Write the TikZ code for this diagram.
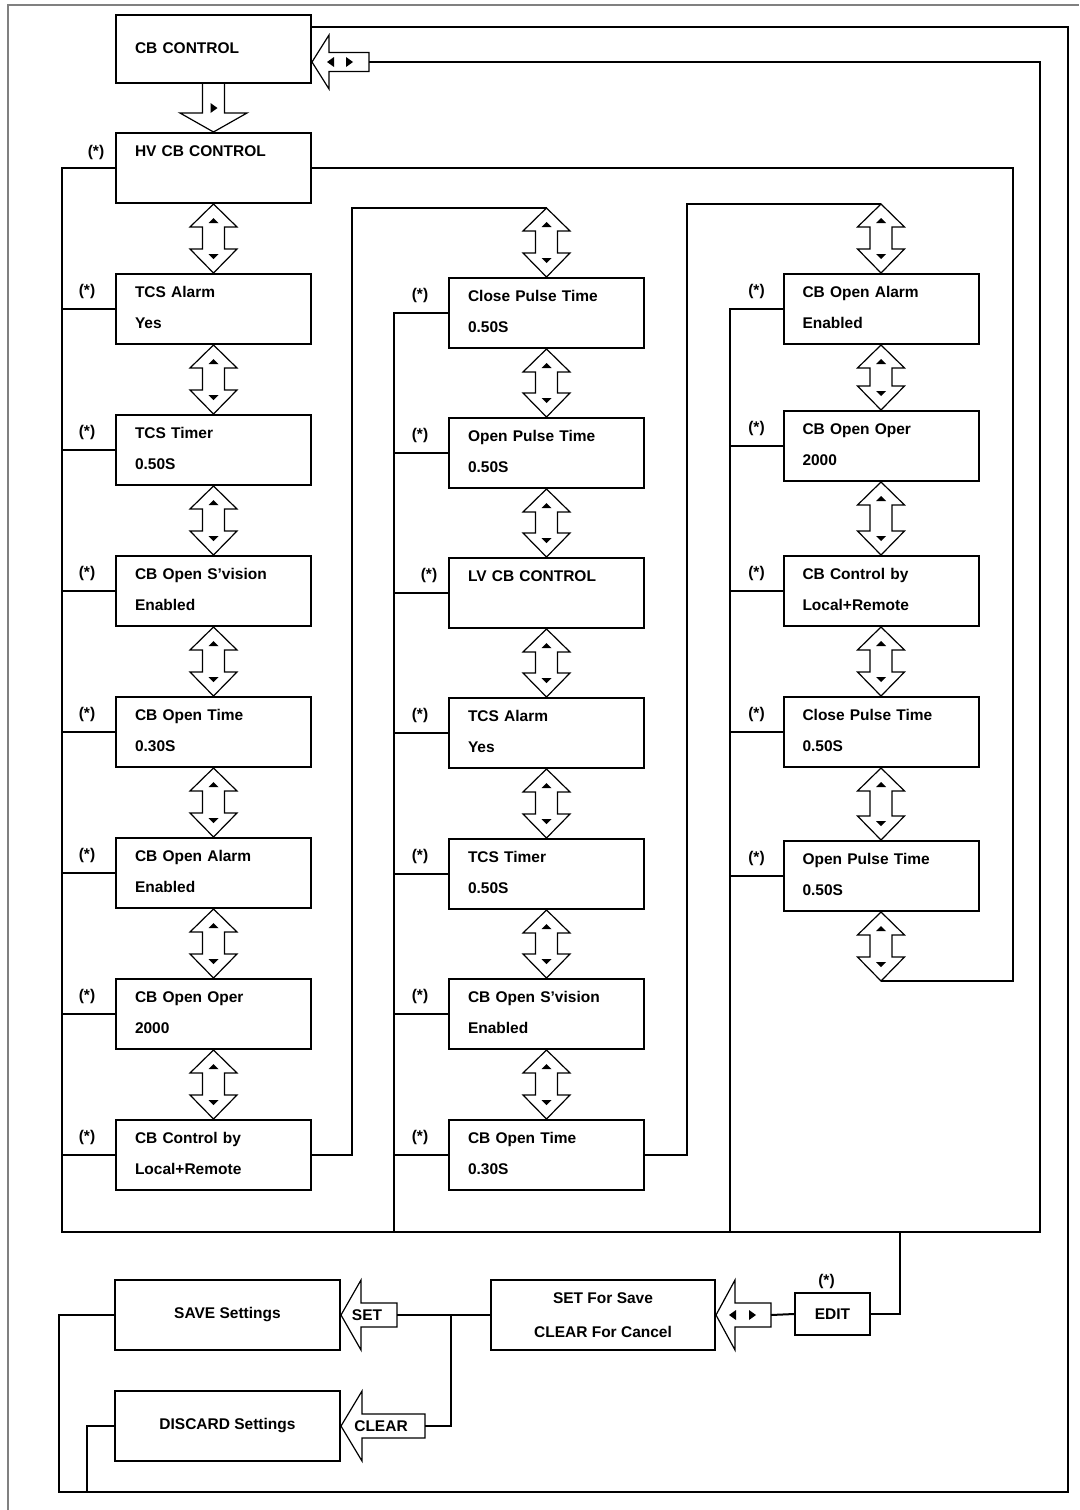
\documentclass[tikz,border=0pt]{standalone}
\usepackage{fontspec}
\setmainfont{Liberation Sans}
\usetikzlibrary{calc}

\tikzset{
  panel/.style={draw, line width=2pt, inner xsep=19pt, text width=157pt, align=left,
    minimum height=70pt, text height=11pt, text depth=34pt},
  keybox/.style={draw, line width=2pt, align=center},
  line/.style={line width=2pt},
  hollow/.style={draw, line width=1.2pt, fill=white},
  starlbl/.style={inner sep=0pt},
}

% hollow up/down arrow between two points
\newcommand{\updn}[2]{%
  \draw[hollow] let \p1=(#1), \p2=(#2) in
    (\p1) -- (\x1+23.5pt,\y1-23pt) -- (\x1+11pt,\y1-23pt) -- (\x1+11pt,\y2+24pt)
    -- (\x1+23.5pt,\y2+24pt) -- (\x1,\y2) -- (\x1-23.5pt,\y2+24pt) -- (\x1-11pt,\y2+24pt)
    -- (\x1-11pt,\y1-23pt) -- (\x1-23.5pt,\y1-23pt) -- cycle;
  \fill let \p1=(#1), \p2=(#2) in
    (\x1,\y1-14pt) -- (\x1+5pt,\y1-19pt) -- (\x1-5pt,\y1-19pt) -- cycle
    (\x1,\y2+14pt) -- (\x1+5pt,\y2+19pt) -- (\x1-5pt,\y2+19pt) -- cycle;
}
% hollow arrow pointing left: tip, length, head half width, head length, shaft half width, tail name
\newcommand{\backarr}[6]{%
  \draw[hollow] let \p1=(#1) in
    (\p1) -- (\x1+#4,\y1+#3) -- (\x1+#4,\y1+#5) -- (\x1+#2,\y1+#5) -- (\x1+#2,\y1-#5)
    -- (\x1+#4,\y1-#5) -- (\x1+#4,\y1-#3) -- cycle
    (\x1+#2,\y1) coordinate (#6);
}
\newcommand{\tril}[1]{\fill (#1) ++(3,-5) -- ++(0,10) -- ++(-7,-5) -- cycle;}
\newcommand{\trir}[1]{\fill (#1) ++(-3,-5) -- ++(0,10) -- ++(7,-5) -- cycle;}

\begin{document}
\begin{tikzpicture}[x=1pt, y=-1pt, font=\bfseries\fontsize{15.5}{31}\selectfont]
  \useasboundingbox (0,0) rectangle (1079,1510);
  \draw[gray, line width=2pt] (8,1510) -- (8,5) -- (1079,5);

  % top
  \node[panel, text depth=3pt, minimum height=68pt] (cbc) at (213.5,49) {CB CONTROL};

  % HV column
  \node[panel] (hv) at (213.5,168) {HV CB CONTROL};
  \node[panel] (tcsa) at (213.5,309) {TCS Alarm\\Yes};
  \node[panel] (tcst) at (213.5,450) {TCS Timer\\0.50S};
  \node[panel] (opsv) at (213.5,591) {CB Open S’vision\\Enabled};
  \node[panel] (optm) at (213.5,732) {CB Open Time\\0.30S};
  \node[panel] (opal) at (213.5,873) {CB Open Alarm\\Enabled};
  \node[panel] (opop) at (213.5,1014) {CB Open Oper\\2000};
  \node[panel] (ctrl) at (213.5,1155) {CB Control by\\Local+Remote};

  % middle column
  \node[panel] (cpt) at (546.5,313) {Close Pulse Time\\0.50S};
  \node[panel] (opt) at (546.5,453) {Open Pulse Time\\0.50S};
  \node[panel] (lv) at (546.5,593) {LV CB CONTROL};
  \node[panel] (tcsa2) at (546.5,733) {TCS Alarm\\Yes};
  \node[panel] (tcst2) at (546.5,874) {TCS Timer\\0.50S};
  \node[panel] (opsv2) at (546.5,1014) {CB Open S’vision\\Enabled};
  \node[panel] (optm2) at (546.5,1155) {CB Open Time\\0.30S};

  % right column
  \node[panel] (opal3) at (881,309) {CB Open Alarm\\Enabled};
  \node[panel] (opop3) at (881,446) {CB Open Oper\\2000};
  \node[panel] (ctrl3) at (881,591) {CB Control by\\Local+Remote};
  \node[panel] (cpt3) at (881,732) {Close Pulse Time\\0.50S};
  \node[panel] (opt3) at (881,876) {Open Pulse Time\\0.50S};

  % (*) marks
  \node[starlbl] (hv-s) at ([shift={(-19,-16)}]hv.west) {(*)};
  \node[starlbl] (lv-s) at ([shift={(-19,-18)}]lv.west) {(*)};
  \foreach \n in {tcsa,tcst,opsv,optm,opal,opop,ctrl,cpt,opt,tcsa2,tcst2,opsv2,optm2}
    \node[starlbl] (\n-s) at ([shift={(-28,18)}]\n.north west) {(*)};
  \foreach \n in {opal3,opop3,ctrl3,cpt3,opt3}
    \node[starlbl] (\n-s) at ([shift={(-26,18)}]\n.north west) {(*)};

  % bottom
  \node[keybox, minimum width=225pt, minimum height=70pt] (save) at (227.5,1315) {SAVE Settings};
  \node[keybox, minimum width=225pt, minimum height=70pt] (discard) at (227.5,1426) {DISCARD Settings};
  \node[keybox, minimum width=224pt, minimum height=70pt] (setfs) at (603,1315) {SET For Save\\[3pt]CLEAR For Cancel};
  \node[keybox, minimum width=75pt, minimum height=42pt] (edit) at (832.5,1314) {EDIT};
  \node[starlbl] (edit-s) at ([shift={(-6,-11)}]edit.north) {(*)};

  \coordinate (c2top) at (546.5,208);
  \coordinate (c3top) at (881,204);
  \coordinate (c3end) at (881,981);
  \coordinate (loop3) at (1013,981);
  \coordinate (bus1) at (62,1232);
  \coordinate (bus2) at (394,1232);
  \coordinate (bus3) at (730,1232);
  \coordinate (bus4) at (1040,1232);
  \coordinate (bus5) at (900,1232);
  \coordinate (loopSW) at (59,1492);
  \coordinate (loopSE) at (1068,1492);
  \coordinate (split) at (451,1315);

  % arrows
  \draw[hollow] let \p1=(cbc.south), \p2=(hv.north) in
    (\x1-11pt,\y1) -- (\x1-11pt,\y2+19pt) -- (\x1-33.5pt,\y2+19pt) -- (\p2)
    -- (\x1+33.5pt,\y2+19pt) -- (\x1+11pt,\y2+19pt) -- (\x1+11pt,\y1);
  \trir{213.5,108}
  \backarr{[yshift=-13pt]cbc.east}{57pt}{27pt}{17pt}{9.5pt}{navtail}
  \tril{[xshift=-38pt]navtail}
  \trir{[xshift=-20pt]navtail}
  \backarr{setfs.east}{55pt}{35pt}{19pt}{12pt}{edittail}
  \tril{[xshift=-38pt]edittail}
  \trir{[xshift=-19pt]edittail}
  \backarr{save.east}{56pt}{35pt}{20pt}{12pt}{settail}
  \backarr{discard.east}{84pt}{35pt}{21pt}{12pt}{clrtail}
  \node (setlbl) at ([xshift=-30pt]settail) {SET};
  \node (clrlbl) at ([xshift=-44pt]clrtail) {CLEAR};

  \updn{hv.south}{tcsa.north}
  \updn{tcsa.south}{tcst.north}
  \updn{tcst.south}{opsv.north}
  \updn{opsv.south}{optm.north}
  \updn{optm.south}{opal.north}
  \updn{opal.south}{opop.north}
  \updn{opop.south}{ctrl.north}
  \updn{c2top}{cpt.north}
  \updn{cpt.south}{opt.north}
  \updn{opt.south}{lv.north}
  \updn{lv.south}{tcsa2.north}
  \updn{tcsa2.south}{tcst2.north}
  \updn{tcst2.south}{opsv2.north}
  \updn{opsv2.south}{optm2.north}
  \updn{c3top}{opal3.north}
  \updn{opal3.south}{opop3.north}
  \updn{opop3.south}{ctrl3.north}
  \updn{ctrl3.south}{cpt3.north}
  \updn{cpt3.south}{opt3.north}
  \updn{opt3.south}{c3end}

  % connectors
  \draw[line] (ctrl.east) -- ++(40,0) |- (c2top);
  \draw[line] (optm2.east) -- ++(42,0) |- (c3top);
  \draw[line] (hv.east) -| (loop3) -- (c3end);
  \draw[line] (navtail) -| (bus4) -- (bus1) |- (hv.west);
  \draw[line] (bus2) |- (cpt.west);
  \draw[line] (bus3) |- (opal3.west);
  \foreach \n in {tcsa,tcst,opsv,optm,opal,opop,ctrl}
    \draw[line] (bus1 |- \n.west) -- (\n.west);
  \foreach \n in {opt,lv,tcsa2,tcst2,opsv2,optm2}
    \draw[line] (bus2 |- \n.west) -- (\n.west);
  \foreach \n in {opop3,ctrl3,cpt3,opt3}
    \draw[line] (bus3 |- \n.west) -- (\n.west);
  \draw[line] (edit.east) -| (bus5);
  \draw[line] (edit.west) -- (edittail);
  \draw[line] (setfs.west) -- (settail);
  \draw[line] (clrtail) -| (split);
  \draw[line] (save.west) -| (loopSW) -- (loopSE) |- ([yshift=-13pt]cbc.north east);
  \draw[line] (discard.west) -- ++(-27,0) |- (loopSW);
\end{tikzpicture}
\end{document}
